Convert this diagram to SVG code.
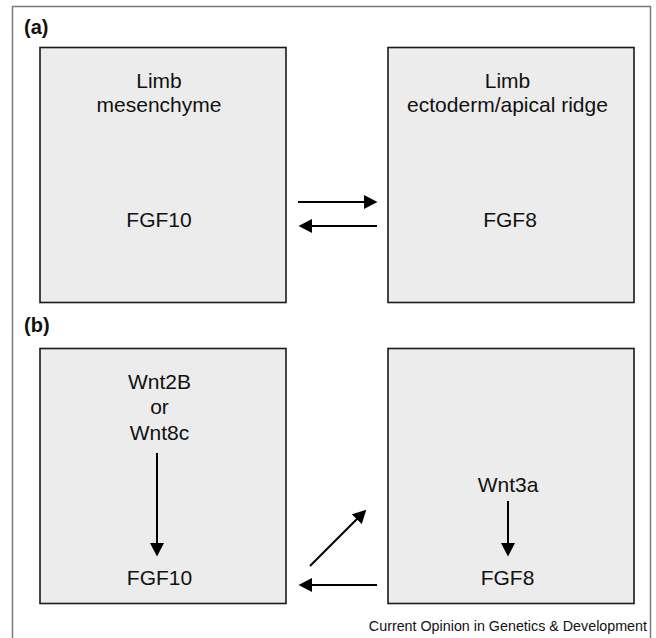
<svg xmlns="http://www.w3.org/2000/svg" width="656" height="638" viewBox="0 0 656 638">
<style>
.box{fill:#ececec;stroke:#1a1a1a;stroke-width:1.6}
.t{font-family:"Liberation Sans",Arial,sans-serif;font-size:21px;fill:#111;text-anchor:middle}
.lab{font-family:"Liberation Sans",Arial,sans-serif;font-size:20px;font-weight:bold;fill:#111}
.cap{font-family:"Liberation Sans",Arial,sans-serif;font-size:14.3px;fill:#111;text-anchor:end}
.c{stroke:#000;stroke-width:2;fill:none;marker-end:url(#ah)}
</style>
<defs>
<marker id="ah" markerUnits="userSpaceOnUse" viewBox="0 0 14 14" refX="2" refY="7" markerWidth="14" markerHeight="14" orient="auto">
<path d="M0,0 L13.5,7 L0,14 z" fill="#000"/>
</marker>
</defs>
<rect x="12.5" y="6.5" width="638" height="650" fill="#fff" stroke="#7a7a7a" stroke-width="1.5"/>
<text class="lab" x="24" y="34">(a)</text>
<text class="lab" x="24" y="332">(b)</text>
<g id="a-mesenchyme">
<rect class="box" x="40" y="47.5" width="246" height="255"/>
<text class="t" x="159" y="88">Limb</text>
<text class="t" x="159" y="112">mesenchyme</text>
<text class="t" x="159" y="227">FGF10</text>
</g>
<g id="a-ectoderm">
<rect class="box" x="388" y="47.5" width="246" height="255"/>
<text class="t" x="507.5" y="88">Limb</text>
<text class="t" x="507.5" y="112">ectoderm/apical ridge</text>
<text class="t" x="510" y="227">FGF8</text>
</g>
<g id="b-mesenchyme">
<rect class="box" x="40" y="348.5" width="246" height="255"/>
<text class="t" x="159.5" y="389">Wnt2B</text>
<text class="t" x="159.5" y="414">or</text>
<text class="t" x="159.5" y="440">Wnt8c</text>
<text class="t" x="159.5" y="585">FGF10</text>
</g>
<g id="b-ectoderm">
<rect class="box" x="388" y="348.5" width="246" height="255"/>
<text class="t" x="508" y="492">Wnt3a</text>
<text class="t" x="507.5" y="585">FGF8</text>
</g>
<g id="connectors">
<line class="c" x1="298" y1="202" x2="366" y2="202"/>
<line class="c" x1="377" y1="226" x2="310" y2="226"/>
<line class="c" x1="157" y1="453" x2="157" y2="545"/>
<line class="c" x1="508" y1="501" x2="508" y2="545"/>
<line class="c" x1="310" y1="566" x2="358.2" y2="517.8"/>
<line class="c" x1="377" y1="585" x2="310" y2="585"/>
</g>
<text class="cap" x="647" y="631">Current Opinion in Genetics &amp; Development</text>
</svg>
